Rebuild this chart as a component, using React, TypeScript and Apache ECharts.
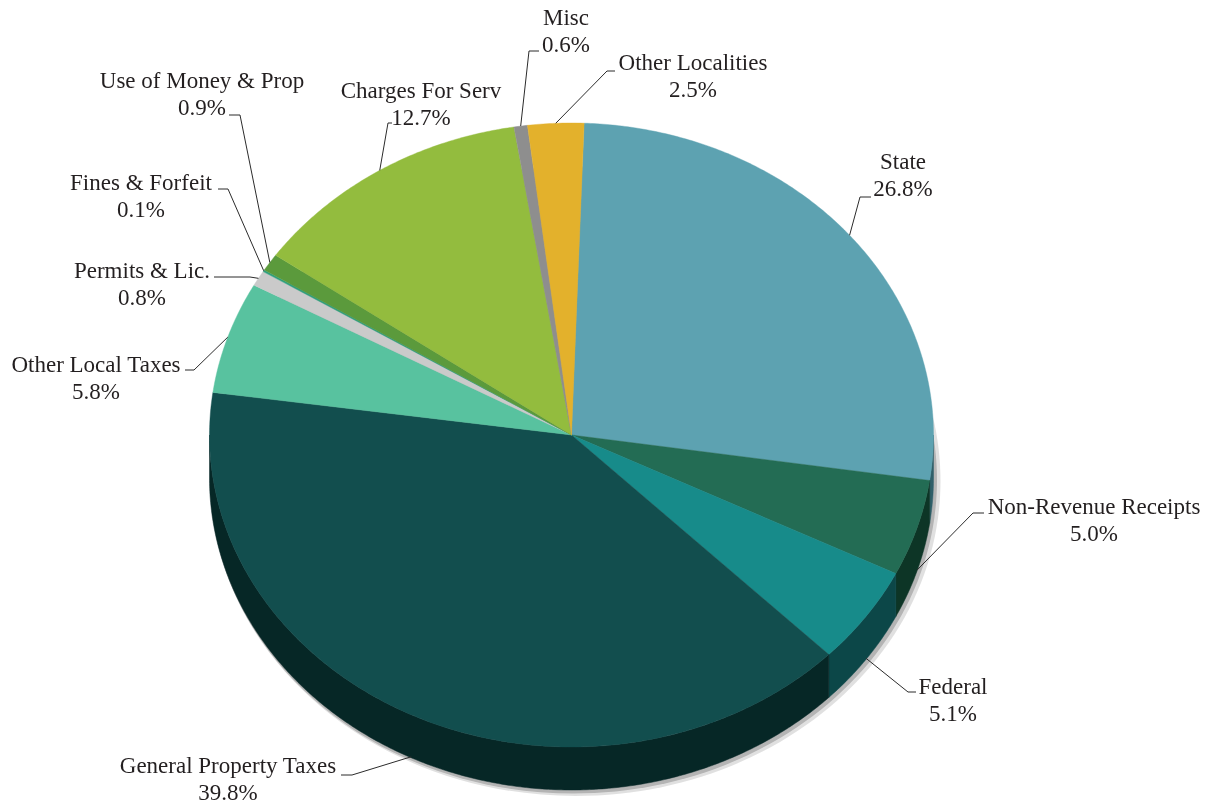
import React, { useEffect, useRef } from 'react';
import * as echarts from 'echarts';

// ---- data ----
const categories = [
  'State',
  'Non-Revenue Receipts',
  'Federal',
  'General Property Taxes',
  'Other Local Taxes',
  'Permits & Lic.',
  'Fines & Forfeit',
  'Use of Money & Prop',
  'Charges For Serv',
  'Misc',
  'Other Localities',
];
const values = [26.8, 5.0, 5.1, 39.8, 5.8, 0.8, 0.1, 0.9, 12.7, 0.6, 2.5];

// ---- styles ----
const topColors = [
  '#5da2b1', '#236c54', '#178b8a', '#124e4e', '#58c29f', '#cacaca',
  '#2f9f7c', '#5b9a3c', '#93bc3e', '#8e8e8e', '#e3b12c',
];
const sideColors = [
  '#2f5f69', '#0d3526', '#0c4748', '#062726', '#2d6b57', '#7a7a7a',
  '#175a44', '#2f5a1e', '#557520', '#555555', '#8a6a14',
];
// label layout: [elbowX, elbowY, endX, endY, textX, textY]
const labelLayout = [
  [860, 197, 871, 197, 903, 175],
  [973, 513, 984, 513, 1094, 520],
  [908, 692, 916, 692, 953, 700],
  [352, 775, 341, 775, 228, 779],
  [194, 370, 185, 370, 96, 378],
  [250, 277, 214, 277, 142, 284],
  [228, 189, 218, 189, 141, 196],
  [240, 115, 229, 115, 202, 94],
  [388, 123, 392, 123, 421, 104],
  [529, 51, 539, 51, 566, 31],
  [607, 71, 615, 71, 693, 76],
];

const CX = 571.5;
const CY = 435;
const RX = 362;
const RY = 312;
const DEPTH = 43;
const START_DEG = 2;
const FONT_FAMILY = 'Liberation Serif';
const LINE_GAP = 27;

const total = values.reduce((a, b) => a + b, 0);
const cumulative: number[] = [];
{
  let acc = 0;
  values.forEach((v) => {
    cumulative.push(acc);
    acc += v;
  });
}
const angleOf = (v: number) => START_DEG + (v / total) * 360;
const pt = (deg: number, dy = 0): number[] => {
  const r = (deg * Math.PI) / 180;
  return [CX + RX * Math.sin(r), CY - RY * Math.cos(r) + dy];
};
const arc = (a0: number, a1: number, dy = 0): number[][] => {
  const pts: number[][] = [];
  const n = Math.max(1, Math.ceil(Math.abs(a1 - a0) / 0.5));
  for (let k = 0; k <= n; k++) pts.push(pt(a0 + ((a1 - a0) * k) / n, dy));
  return pts;
};
const textEl = (text: string, x: number, y: number) => ({
  type: 'text',
  style: {
    text,
    x,
    y,
    fill: '#231f20',
    fontFamily: FONT_FAMILY,
    fontSize: 23,
    align: 'center',
    verticalAlign: 'middle',
  },
});

export default function App() {
  const ref = useRef<HTMLDivElement>(null);
  useEffect(() => {
    if (!ref.current) return;
    const chart = echarts.init(ref.current, undefined, { renderer: 'svg' });
    chart.setOption({
      animation: false,
      textStyle: { fontFamily: FONT_FAMILY },
      graphic: [
        {
          type: 'ellipse',
          z: 0,
          shape: { cx: CX + 4, cy: CY + DEPTH + 3, rx: RX + 3, ry: RY + 3 },
          style: { fill: 'rgba(0,0,0,0.12)' },
        },
        {
          type: 'ellipse',
          z: 0,
          shape: { cx: CX + 2, cy: CY + DEPTH + 2, rx: RX + 1.5, ry: RY + 1.5 },
          style: { fill: 'rgba(0,0,0,0.2)' },
        },
      ],
      series: [
        {
          type: 'custom',
          coordinateSystem: 'none',
          z: 2,
          data: values.map((v, i) => ({ name: categories[i], value: v })),
          renderItem: (params: any, api: any) => {
            const i = params.dataIndex;
            const v = api.value(0) as number;
            const a0 = angleOf(cumulative[i]);
            const a1 = angleOf(cumulative[i] + v);
            const children: any[] = [];
            const s = Math.max(a0, 90);
            const e = Math.min(a1, 270);
            if (e > s) {
              const top = arc(s, e, 0);
              const bottom = arc(e, s, DEPTH);
              children.push({
                type: 'polygon',
                shape: { points: top.concat(bottom) },
                style: { fill: sideColors[i], stroke: sideColors[i], lineWidth: 0.5 },
              });
            }
            children.push({
              type: 'polygon',
              shape: { points: [[CX, CY]].concat(arc(a0, a1, 0)) },
              style: { fill: topColors[i], stroke: topColors[i], lineWidth: 0.4 },
            });
            const m = (a0 + a1) / 2;
            const mm = ((m % 360) + 360) % 360;
            const start = mm > 90 && mm < 270 ? pt(m, DEPTH - 1) : pt(m, 0);
            const L = labelLayout[i];
            children.push({
              type: 'polyline',
              shape: { points: [start, [L[0], L[1]], [L[2], L[3]]] },
              style: { stroke: '#2b2b2b', lineWidth: 1, fill: 'none' },
            });
            children.push(textEl(categories[i], L[4], L[5] - LINE_GAP / 2));
            children.push(textEl(v.toFixed(1) + '%', L[4], L[5] + LINE_GAP / 2));
            return { type: 'group', children };
          },
        },
      ],
    });
    return () => chart.dispose();
  }, []);
  return (
    <div
      ref={ref}
      style={{ position: 'fixed', left: 0, top: 0, width: 1212, height: 805 }}
    />
  );
}
